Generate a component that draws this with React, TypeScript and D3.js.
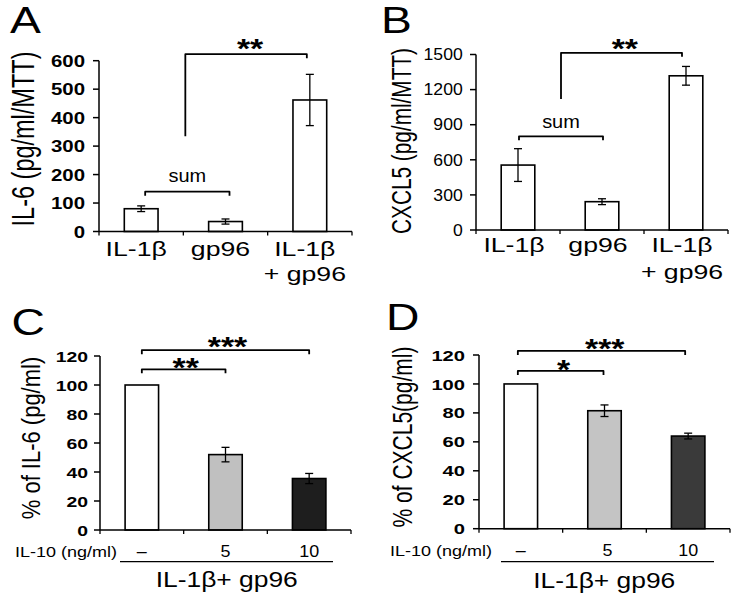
import React from 'react';
import * as d3 from 'd3';

// ---------- data ----------
const topCategories = ['il1b', 'gp96', 'combo'];
const topCategoryLines = [['IL-1β'], ['gp96'], ['IL-1β', '+ gp96']];
const il6Values = [80, 35, 462];
const il6Errors = [10, 9, 90];
const il6Ticks = [0, 100, 200, 300, 400, 500, 600];
const cxcl5Values = [555, 242, 1318];
const cxcl5Errors = [140, 25, 80];
const cxcl5Ticks = [0, 300, 600, 900, 1200, 1500];
const doseCategories = ['none', 'd5', 'd10'];
const doseLabels = ['–', '5', '10'];
const il6PctValues = [100, 52, 35.5];
const il6PctErrors = [0, 5, 3.5];
const cxcl5PctValues = [100, 81.5, 64];
const cxcl5PctErrors = [0, 4, 2];
const pctTicks = [0, 20, 40, 60, 80, 100, 120];

const FONT = "'Liberation Sans', Arial, Helvetica, sans-serif";
const whiteFills = ['#ffffff', '#ffffff', '#ffffff'];
const fillsC = ['#ffffff', '#c0c0c0', '#1e1e1e'];
const fillsD = ['#ffffff', '#c4c4c4', '#3a3a3a'];

type TxtProps = {
  x: number; y: number; sx?: number; rot?: boolean; anchor?: string;
  size: number; bold?: boolean; children: React.ReactNode;
};
const Txt = ({ x, y, sx = 1, rot = false, anchor = 'middle', size, bold = false, children }: TxtProps) => (
  <text
    transform={`translate(${x},${y}) scale(${sx},1)${rot ? ' rotate(-90)' : ''}`}
    textAnchor={anchor as any}
    fontSize={size}
    fontWeight={bold ? 'bold' : 'normal'}
    fontFamily={FONT}
    fill="#000"
  >
    {children}
  </text>
);

type PanelProps = {
  cats: string[];
  values: number[];
  errors: number[];
  ticks: number[];
  fills: string[];
  axisX: number; xEnd: number; y0: number; yTop: number;
  tickSize: number; tickSx: number; tickBold: boolean; tickGap: number;
  children?: (x: d3.ScaleBand<string>, y: d3.ScaleLinear<number, number>) => React.ReactNode;
};

const BarPanel = (p: PanelProps) => {
  const x = d3.scaleBand<string>().domain(p.cats).range([p.axisX, p.xEnd]).padding(0);
  const yMax = p.ticks[p.ticks.length - 1];
  const y = d3.scaleLinear().domain([0, yMax]).range([p.y0, p.yTop]);
  const bw = x.bandwidth() * 0.4;
  const edges = d3.range(p.cats.length + 1).map(i => p.axisX + i * x.step());
  return (
    <g>
      {p.cats.map((c, i) => {
        const xc = (x(c) as number) + x.bandwidth() / 2;
        return (
          <rect key={c} x={xc - bw / 2} y={y(p.values[i])} width={bw}
            height={y(0) - y(p.values[i])} fill={p.fills[i]} stroke="#000" strokeWidth={1.6} />
        );
      })}
      {p.cats.map((c, i) => {
        if (!p.errors[i]) return null;
        const xc = (x(c) as number) + x.bandwidth() / 2;
        const hi = y(p.values[i] + p.errors[i]);
        const lo = y(p.values[i] - p.errors[i]);
        return (
          <g key={c + 'e'} stroke="#000" strokeWidth={1.3}>
            <line x1={xc} x2={xc} y1={hi} y2={lo} />
            <line x1={xc - 4} x2={xc + 4} y1={hi} y2={hi} />
            <line x1={xc - 4} x2={xc + 4} y1={lo} y2={lo} />
          </g>
        );
      })}
      <line x1={p.axisX} x2={p.axisX} y1={y(0)} y2={y(yMax)} stroke="#000" strokeWidth={1.5} />
      {p.ticks.map(t => (
        <g key={t}>
          <line x1={p.axisX - 6} x2={p.axisX} y1={y(t)} y2={y(t)} stroke="#000" strokeWidth={1.5} />
          <Txt x={p.axisX - p.tickGap} y={y(t) + p.tickSize * 0.36} sx={p.tickSx} anchor="end"
            size={p.tickSize} bold={p.tickBold}>{t}</Txt>
        </g>
      ))}
      <line x1={p.axisX} x2={p.xEnd} y1={y(0)} y2={y(0)} stroke="#000" strokeWidth={1.5} />
      {edges.map((e, i) => (
        <line key={i} x1={e} x2={e} y1={y(0)} y2={y(0) + 4} stroke="#000" strokeWidth={1.3} />
      ))}
      {p.children && p.children(x, y)}
    </g>
  );
};

const center = (x: d3.ScaleBand<string>, c: string) => (x(c) as number) + x.bandwidth() / 2;

const Bracket = ({ xa, xb, y, ya, yb }: { xa: number; xb: number; y: number; ya?: number; yb?: number }) => (
  <path d={`M${xa},${ya ?? y + 4}L${xa},${y}L${xb},${y}L${xb},${yb ?? y + 4}`}
    fill="none" stroke="#000" strokeWidth={1.8} strokeLinejoin="round" />
);

const Stars = ({ x, y, n }: { x: number; y: number; n: number }) => (
  <Txt x={x} y={y} sx={1.25} size={27} bold>{'*'.repeat(n)}</Txt>
);

export default function App() {
  return (
    <svg width={750} height={600} style={{ position: 'absolute', left: 0, top: 0, background: '#fff' }}>
      <rect width={750} height={600} fill="#fff" />

      <Txt x={10} y={33} sx={1.25} size={37} anchor="start">A</Txt>
      <Txt x={381} y={33} sx={1.25} size={37} anchor="start">B</Txt>
      <Txt x={11.5} y={334.5} sx={1.25} size={37} anchor="start">C</Txt>
      <Txt x={386} y={330} sx={1.25} size={37} anchor="start">D</Txt>

      {/* Panel A */}
      <Txt x={34} y={139} sx={1.3} size={23.5} rot>IL-6 (pg/ml/MTT)</Txt>
      <BarPanel cats={topCategories} values={il6Values} errors={il6Errors} ticks={il6Ticks}
        fills={whiteFills} axisX={99} xEnd={352} y0={231.5} yTop={60.7}
        tickSize={17} tickSx={1.2} tickBold tickGap={14}>
        {(x, y) => {
          const c0 = center(x, topCategories[0]);
          const c1 = center(x, topCategories[1]);
          const c2 = center(x, topCategories[2]);
          const e1 = x(topCategories[1]) as number;
          const sumY = y(140);
          const sigY = y(623);
          return (
            <g>
              <Bracket xa={c0 + 4} xb={c1 + 4} y={sumY} />
              <Txt x={(c0 + c1) / 2 + 4} y={sumY - 9.5} sx={1.08} size={18.5}>sum</Txt>
              <Bracket xa={e1 + 2} xb={c2 - 3} y={sigY} ya={y(335)} />
              <Stars x={(e1 + 2 + c2 - 3) / 2 + 4} y={sigY + 4} n={2} />
              {topCategories.map((c, i) =>
                topCategoryLines[i].map((ln, j) => (
                  <Txt key={c + j} x={center(x, c) - 5} y={256 + j * 25} sx={1.3} size={20.5}>{ln}</Txt>
                ))
              )}
            </g>
          );
        }}
      </BarPanel>

      {/* Panel B */}
      <Txt x={411} y={141} sx={1.3} size={20.8} rot>CXCL5 (pg/ml/MTT)</Txt>
      <BarPanel cats={topCategories} values={cxcl5Values} errors={cxcl5Errors} ticks={cxcl5Ticks}
        fills={whiteFills} axisX={476} xEnd={728} y0={230} yTop={54.5}
        tickSize={16} tickSx={1.1} tickBold={false} tickGap={13.3}>
        {(x, y) => {
          const c0 = center(x, topCategories[0]);
          const c1 = center(x, topCategories[1]);
          const c2 = center(x, topCategories[2]);
          const e1 = x(topCategories[1]) as number;
          const sumY = y(801);
          const sigY = y(1514);
          return (
            <g>
              <Bracket xa={c0 + 1} xb={c1 + 1} y={sumY} />
              <Txt x={(c0 + c1) / 2 + 1} y={sumY - 8} sx={1.08} size={18.5}>sum</Txt>
              <Bracket xa={e1 + 1} xb={c2 - 4} y={sigY} ya={y(1119)} />
              <Stars x={(e1 + 1 + c2 - 4) / 2 + 3.3} y={sigY + 4.7} n={2} />
              {topCategories.map((c, i) =>
                topCategoryLines[i].map((ln, j) => (
                  <Txt key={c + j} x={center(x, c) - 4} y={252 + j * 27} sx={1.3} size={20.5}>{ln}</Txt>
                ))
              )}
            </g>
          );
        }}
      </BarPanel>

      {/* Panel C */}
      <Txt x={39.7} y={438} sx={1.15} size={22} rot>% of IL-6 (pg/ml)</Txt>
      <BarPanel cats={doseCategories} values={il6PctValues} errors={il6PctErrors} ticks={pctTicks}
        fills={fillsC} axisX={100} xEnd={351} y0={530} yTop={356}
        tickSize={15.5} tickSx={1.25} tickBold tickGap={12}>
        {(x, y) => {
          const c0 = center(x, doseCategories[0]);
          const c1 = center(x, doseCategories[1]);
          const c2 = center(x, doseCategories[2]);
          const y3 = y(124);
          const y2 = y(110.8);
          return (
            <g>
              <Bracket xa={c0} xb={c2} y={y3} />
              <Stars x={(c0 + c2) / 2 + 2} y={y3 + 5.3} n={3} />
              <Bracket xa={c0} xb={c1} y={y2} />
              <Stars x={(c0 + c1) / 2 + 2} y={y2 + 7.7} n={2} />
              <Txt x={15} y={557} sx={1.2} size={15} anchor="start">IL-10 (ng/ml)</Txt>
              {doseCategories.map((c, i) => (
                <Txt key={c} x={center(x, c)} y={557} sx={1.12} size={16}>{doseLabels[i]}</Txt>
              ))}
              <line x1={(x(doseCategories[0]) as number) + 20} x2={351 - 18} y1={561.7} y2={561.7}
                stroke="#000" strokeWidth={1.3} />
              <Txt x={226.7} y={587} sx={1.2} size={22}>IL-1β+ gp96</Txt>
            </g>
          );
        }}
      </BarPanel>

      {/* Panel D */}
      <Txt x={412.3} y={437} sx={1.35} size={21} rot>% of CXCL5(pg/ml)</Txt>
      <BarPanel cats={doseCategories} values={cxcl5PctValues} errors={cxcl5PctErrors} ticks={pctTicks}
        fills={fillsD} axisX={479} xEnd={730} y0={528.7} yTop={355}
        tickSize={15.5} tickSx={1.3} tickBold tickGap={14}>
        {(x, y) => {
          const c0 = center(x, doseCategories[0]);
          const c1 = center(x, doseCategories[1]);
          const c2 = center(x, doseCategories[2]);
          const y3 = y(122.8);
          const y1 = y(109);
          return (
            <g>
              <Bracket xa={c0 - 3} xb={c2 - 3} y={y3} />
              <Stars x={(c0 + c2) / 2 + 0.3} y={y3 + 6.6} n={3} />
              <Bracket xa={c0 - 3} xb={c1 - 1} y={y1} />
              <Stars x={(c0 + c1) / 2 + 1} y={y1 + 8} n={1} />
              <Txt x={390} y={556} sx={1.2} size={15} anchor="start">IL-10 (ng/ml)</Txt>
              {doseCategories.map((c, i) => (
                <Txt key={c} x={center(x, c) + (i === 1 ? 3 : 0)} y={556} sx={1.12} size={16}>{doseLabels[i]}</Txt>
              ))}
              <line x1={(x(doseCategories[0]) as number) + 22} x2={730 - 16} y1={561.7} y2={561.7}
                stroke="#000" strokeWidth={1.3} />
              <Txt x={604.2} y={587.5} sx={1.2} size={22}>IL-1β+ gp96</Txt>
            </g>
          );
        }}
      </BarPanel>
    </svg>
  );
}
